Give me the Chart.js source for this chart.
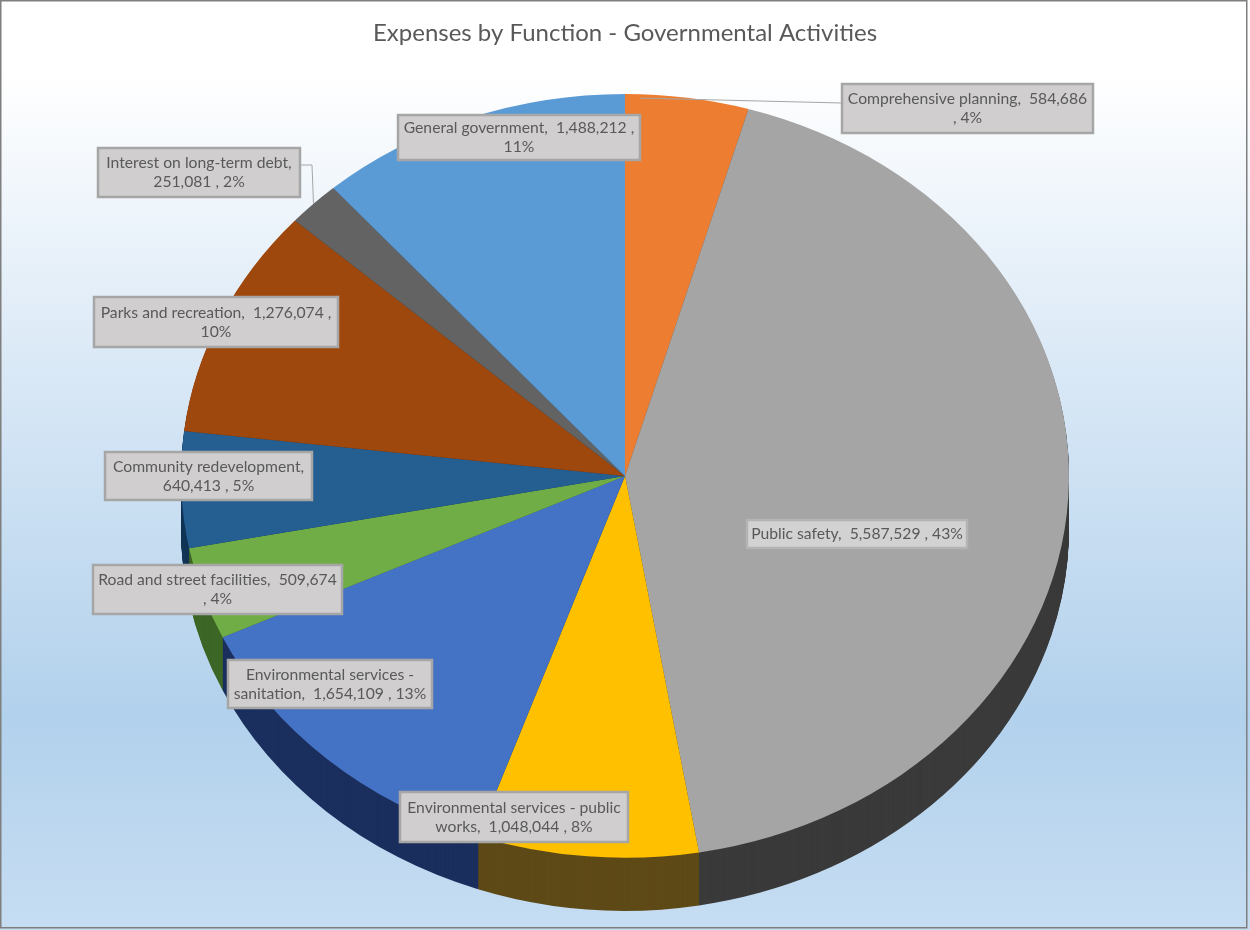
<!DOCTYPE html>
<html>
<head>
<meta charset="utf-8">
<script src="https://cdn.jsdelivr.net/npm/chart.js@4.4.0/dist/chart.umd.min.js"></script>
<style>
  body { margin: 0; background: #fff; }
  #wrap { width: 1250px; height: 930px; }
</style>
</head>
<body>
<div id="wrap"><canvas id="expenses-chart" width="1250" height="930"></canvas></div>
<script>
// data, clockwise from 12 o'clock
const categories = [
    "Comprehensive planning",
    "Public safety",
    "Environmental services - public works",
    "Environmental services - sanitation",
    "Road and street facilities",
    "Community redevelopment",
    "Parks and recreation",
    "Interest on long-term debt",
    "General government"
];
const amounts = [584686, 5587529, 1048044, 1654109, 509674, 640413, 1276074, 251081, 1488212];

// colours
const sliceColors = ['#ED7D31', '#A5A5A5', '#FFC000', '#4472C4', '#70AD47', '#255E91', '#9E480E', '#636363', '#5B9BD5'];
const sideColors = ['#8a4519', '#3a3a3a', '#5e4a17', '#1b2f5e', '#3d6626', '#133556', '#5a2808', '#333333', '#2f5d8a'];

// label boxes [x, y, w, h] and how many words go on the first line
const boxes = [
    [842, 84, 251, 49],
    [747, 520, 220, 28],
    [400, 792, 228, 50],
    [228, 660, 204, 48],
    [93, 565, 249, 49],
    [105, 452, 207, 48],
    [94, 297, 244, 50],
    [98, 148, 202, 49],
    [398, 115, 242, 45]
];
const firstLineWords = [4, 99, 4, 3, 6, 2, 6, 4, 5];

const tilt = 0.86;
const depth = 53;

const total = amounts.reduce((a, b) => a + b, 0);

function labelLines(i) {
    const pct = Math.round(amounts[i] / total * 100);
    const text = `${categories[i]},  ${amounts[i].toLocaleString('en-US')} , ${pct}%`;
    const words = text.split(' ');
    const n = firstLineWords[i];
    const lines = [words.slice(0, n).join(' ').trim()];
    if (words.length > n) lines.push(words.slice(n).join(' ').trim());
    return lines;
}

// background gradient + frame
const backdrop = {
    id: 'backdrop',
    beforeDraw(chart) {
        const ctx = chart.ctx;
        const w = chart.width, h = chart.height;
        ctx.save();
        ctx.fillStyle = '#ffffff';
        ctx.fillRect(0, 0, w, h);
        const g = ctx.createLinearGradient(0, 75, 0, h);
        g.addColorStop(0, '#ffffff');
        g.addColorStop(0.35, '#d9e8f6');
        g.addColorStop(0.75, '#b2d1ec');
        g.addColorStop(1, '#c6ddf2');
        ctx.fillStyle = g;
        ctx.fillRect(0, 75, w, h - 75);
        ctx.restore();
    },
    afterDraw(chart) {
        const ctx = chart.ctx;
        ctx.save();
        ctx.strokeStyle = '#7f7f7f';
        ctx.lineWidth = 1.5;
        ctx.strokeRect(0.75, 0.75, 1246, 927);
        ctx.restore();
    }
};

// fake 3d: squash the pie and stack a darker wall under it
const pie3d = {
    id: 'pie3d',
    beforeDatasetsDraw(chart) {
        const ctx = chart.ctx;
        const arcs = chart.getDatasetMeta(0).data;
        const cy = arcs[0].y;
        ctx.save();
        for (let d = depth; d > 0; d--) {
            ctx.save();
            ctx.translate(0, cy + d);
            ctx.scale(1, tilt);
            ctx.translate(0, -cy);
            arcs.forEach((arc, i) => {
                const p = arc.getProps(['x', 'y', 'startAngle', 'endAngle', 'outerRadius']);
                ctx.beginPath();
                ctx.moveTo(p.x, p.y);
                ctx.arc(p.x, p.y, p.outerRadius, p.startAngle, p.endAngle);
                ctx.closePath();
                ctx.fillStyle = sideColors[i];
                ctx.fill();
            });
            ctx.restore();
        }
        ctx.translate(0, cy);
        ctx.scale(1, tilt);
        ctx.translate(0, -cy);
    },
    afterDatasetsDraw(chart) {
        chart.ctx.restore();
    }
};

// data labels in grey boxes; leader ends at a fraction along the slice
const leaders = [
    { i: 0, at: 0.12, r: 0.99, pts: [[842, 103]] },
    { i: 7, at: 0.5, r: 1.0, pts: [[300, 165], [312, 165]] }
];

const labelBoxes = {
    id: 'labelBoxes',
    afterDraw(chart) {
        const ctx = chart.ctx;
        const arcs = chart.getDatasetMeta(0).data;
        ctx.save();

        ctx.strokeStyle = '#a6a6a6';
        ctx.lineWidth = 1;
        leaders.forEach(l => {
            const p = arcs[l.i].getProps(['x', 'y', 'startAngle', 'endAngle', 'outerRadius']);
            const a = p.startAngle + (p.endAngle - p.startAngle) * l.at;
            const r = p.outerRadius * l.r;
            ctx.beginPath();
            ctx.moveTo(l.pts[0][0], l.pts[0][1]);
            l.pts.slice(1).forEach(q => ctx.lineTo(q[0], q[1]));
            ctx.lineTo(p.x + r * Math.cos(a), p.y + r * Math.sin(a) * tilt);
            ctx.stroke();
        });

        ctx.font = '15.7px Lato';
        ctx.textAlign = 'center';
        ctx.textBaseline = 'middle';
        boxes.forEach(([x, y, w, h], i) => {
            ctx.fillStyle = i === 1 ? '#d2d2d2' : '#d0cece';
            ctx.fillRect(x, y, w, h);
            ctx.lineWidth = 2.5;
            ctx.strokeStyle = i === 1 ? '#b4b4b4' : '#a6a6a6';
            ctx.strokeRect(x, y, w, h);
            const lines = labelLines(i);
            ctx.fillStyle = '#595959';
            lines.forEach((t, k) => {
                ctx.fillText(t, x + w / 2, y + h / 2 + (k - (lines.length - 1) / 2) * 19);
            });
        });
        ctx.restore();
    }
};

const expensesCanvas = document.getElementById("expenses-chart");

let expensesChart = new Chart(expensesCanvas, {
    type: 'pie',
    data: {
        labels: categories,
        datasets: [{
            data: amounts,
            backgroundColor: sliceColors,
            borderWidth: 0,
            radius: 444
        }]
    },
    options: {
        responsive: false,
        animation: false,
        events: [],
        layout: {
            padding: { top: 0, bottom: 26, left: 0, right: 0 }
        },
        plugins: {
            legend: { display: false },
            tooltip: { enabled: false },
            title: {
                display: true,
                text: 'Expenses by Function - Governmental Activities',
                color: '#595959',
                font: { family: 'Lato', size: 24, weight: 'normal' },
                padding: { top: 19, bottom: 0 }
            }
        }
    },
    plugins: [backdrop, pie3d, labelBoxes]
});
</script>
</body>
</html>
